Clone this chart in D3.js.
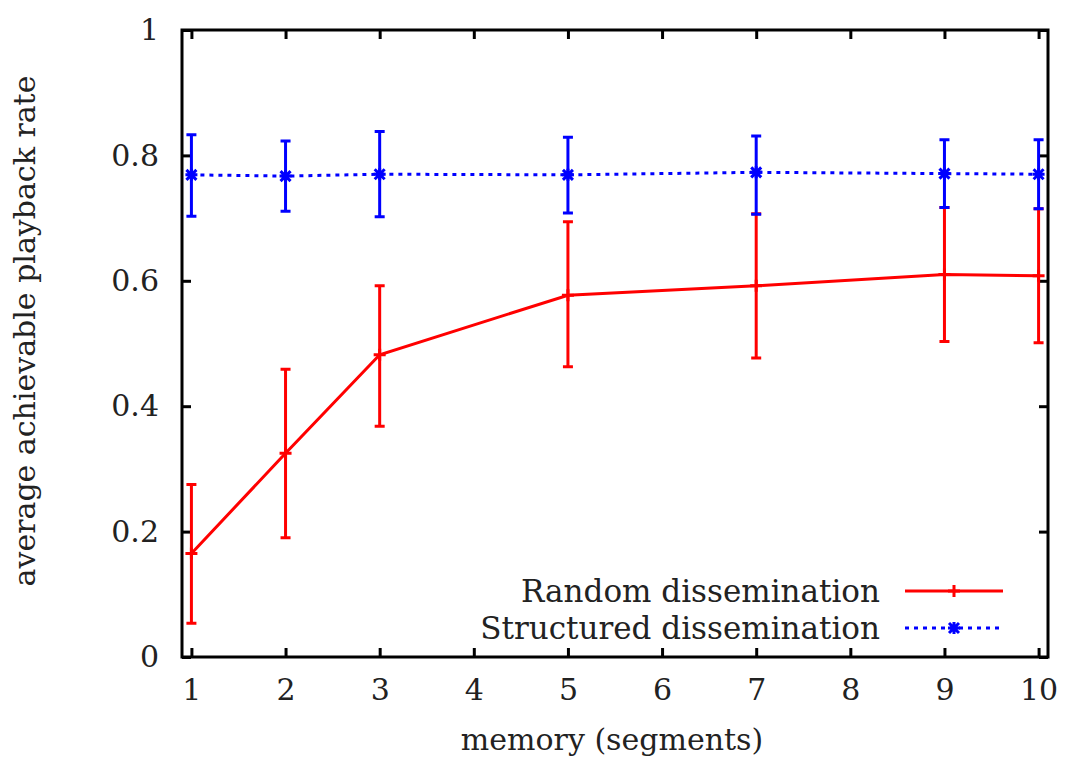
<!DOCTYPE html>
<html>
<head>
<style>
  body, html { margin: 0; padding: 0; background: #fff; }
  text { font-family: "DejaVu Serif", "Liberation Serif", serif; fill: #222; }
</style>
</head>
<body>
<svg id="svg" width="1065" height="767"></svg>
<script src="https://d3js.org/d3.v7.min.js"></script>
<script>
// memory sizes (x values)
const memory = [1, 2, 3, 5, 7, 9, 10]

// Random dissemination: mean, lower, upper
const randomMean = [0.165, 0.325, 0.482, 0.577, 0.592, 0.610, 0.608]
const randomLow  = [0.054, 0.190, 0.368, 0.463, 0.477, 0.503, 0.501]
const randomHigh = [0.275, 0.459, 0.592, 0.694, 0.707, 0.717, 0.715]

// Structured dissemination: mean, lower, upper
const structMean = [0.769, 0.767, 0.770, 0.769, 0.773, 0.771, 0.770]
const structLow  = [0.703, 0.711, 0.702, 0.708, 0.706, 0.717, 0.715]
const structHigh = [0.833, 0.823, 0.838, 0.829, 0.831, 0.825, 0.825]

const xTicks = [1, 2, 3, 4, 5, 6, 7, 8, 9, 10]
const yTicks = [0, 0.2, 0.4, 0.6, 0.8, 1]

const plotLeft = 182, plotRight = 1048, plotTop = 30, plotBottom = 657
const font = '"DejaVu Serif", "Liberation Serif", serif'

const svg = d3.select('#svg')

const x = d3.scaleLinear().domain([0.9, 10.1]).range([plotLeft, plotRight])
const y = d3.scaleLinear().domain([0, 1]).range([plotBottom, plotTop])

// axes with inward ticks on all four sides
function styleAxis(g) {
  g.select('.domain').remove()
  g.selectAll('line').attr('stroke', '#000').attr('stroke-width', 3)
  g.selectAll('text').attr('font-size', 30).attr('font-family', font).attr('fill', '#222')
}
svg.append('g').attr('transform', `translate(0,${plotBottom})`)
  .call(d3.axisBottom(x).tickValues(xTicks).tickSizeInner(-9).tickSizeOuter(0).tickPadding(22).tickFormat(d3.format('d')))
  .call(styleAxis)
svg.append('g').attr('transform', `translate(0,${plotTop})`)
  .call(d3.axisTop(x).tickValues(xTicks).tickSizeInner(-9).tickSizeOuter(0).tickFormat(''))
  .call(styleAxis)
svg.append('g').attr('transform', `translate(${plotLeft},0)`)
  .call(d3.axisLeft(y).tickValues(yTicks).tickSizeInner(-9).tickSizeOuter(0).tickPadding(23).tickFormat(d => d === 0 || d === 1 ? d3.format('d')(d) : d3.format('.1f')(d)))
  .call(styleAxis)
svg.append('g').attr('transform', `translate(${plotRight},0)`)
  .call(d3.axisRight(y).tickValues(yTicks).tickSizeInner(-9).tickSizeOuter(0).tickFormat(''))
  .call(styleAxis)

// frame
svg.append('rect')
  .attr('x', plotLeft).attr('y', plotTop)
  .attr('width', plotRight - plotLeft).attr('height', plotBottom - plotTop)
  .attr('fill', 'none').attr('stroke', '#000').attr('stroke-width', 3)

const series = [
  { name: 'Random dissemination', color: '#ff0000', dash: null, mean: randomMean, low: randomLow, high: randomHigh, mark: 'plus' },
  { name: 'Structured dissemination', color: '#0000ff', dash: '4,5', mean: structMean, low: structLow, high: structHigh, mark: 'star' }
]

const line = d3.line().x(d => x(d.x)).y(d => y(d.y))

function drawMark(g, cx, cy, s) {
  if (s.mark === 'plus') {
    g.append('path')
      .attr('d', `M${cx - 6},${cy}H${cx + 6}M${cx},${cy - 6}V${cy + 6}`)
      .attr('stroke', s.color).attr('stroke-width', 3)
  } else {
    g.append('path')
      .attr('d', `M${cx - 6},${cy}H${cx + 6}M${cx},${cy - 6}V${cy + 6}M${cx - 5},${cy - 5}L${cx + 5},${cy + 5}M${cx - 5},${cy + 5}L${cx + 5},${cy - 5}`)
      .attr('stroke', s.color).attr('stroke-width', 3)
  }
}

series.forEach(s => {
  const pts = memory.map((m, i) => ({ x: m, y: s.mean[i], lo: s.low[i], hi: s.high[i] }))
  const g = svg.append('g')
  g.append('path')
    .attr('d', line(pts))
    .attr('fill', 'none')
    .attr('stroke', s.color)
    .attr('stroke-width', 3)
    .attr('stroke-dasharray', s.dash)
  pts.forEach(p => {
    const cx = x(p.x)
    g.append('path')
      .attr('d', `M${cx},${y(p.lo)}V${y(p.hi)}M${cx - 5},${y(p.lo)}H${cx + 5}M${cx - 5},${y(p.hi)}H${cx + 5}`)
      .attr('stroke', s.color).attr('stroke-width', 3).attr('fill', 'none')
    drawMark(g, cx, y(p.y), s)
  })
})

// legend
series.forEach((s, i) => {
  const ly = 591 + i * 37
  svg.append('text')
    .attr('x', 880).attr('y', ly + 11)
    .attr('text-anchor', 'end')
    .attr('font-size', 31)
    .attr('font-family', font)
    .text(s.name)
  svg.append('line')
    .attr('x1', 905).attr('x2', 1003).attr('y1', ly).attr('y2', ly)
    .attr('stroke', s.color).attr('stroke-width', 3)
    .attr('stroke-dasharray', s.dash)
  drawMark(svg, 954, ly, s)
})

// axis titles
svg.append('text')
  .attr('x', 612).attr('y', 750)
  .attr('text-anchor', 'middle')
  .attr('font-size', 30)
  .attr('font-family', font)
  .text('memory (segments)')
svg.append('text')
  .attr('transform', 'translate(35,331) rotate(-90)')
  .attr('text-anchor', 'middle')
  .attr('font-size', 30)
  .attr('font-family', font)
  .text('average achievable playback rate')
</script>
</body>
</html>
